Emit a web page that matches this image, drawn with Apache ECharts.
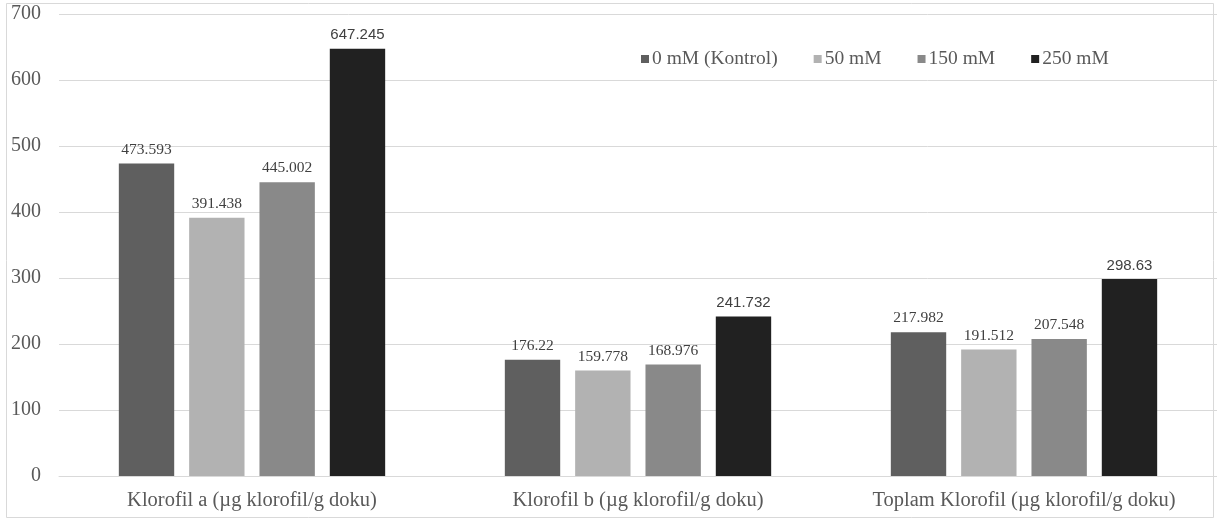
<!DOCTYPE html>
<html>
<head>
<meta charset="utf-8">
<script src="https://cdn.jsdelivr.net/npm/echarts@6/dist/echarts.min.js"></script>
<style>html,body{margin:0;padding:0;background:#fff;}#c{width:1217px;height:521px;}</style>
</head>
<body>
<div id="c"></div>
<script>
var categories = ['Klorofil a (µg klorofil/g doku)', 'Klorofil b (µg klorofil/g doku)', 'Toplam Klorofil (µg klorofil/g doku)'];
var seriesNames = ['0 mM (Kontrol)', '50 mM', '150 mM', '250 mM'];
var kontrol = [473.593, 176.22, 217.982];
var mM50 = [391.438, 159.778, 191.512];
var mM150 = [445.002, 168.976, 207.548];
var mM250 = [647.245, 241.732, 298.63];
var yTicks = [0, 100, 200, 300, 400, 500, 600, 700];

var colors = ['#5f5f5f', '#b2b2b2', '#898989', '#212121'];
var values = [kontrol, mM50, mM150, mM250];
var serif = '"Liberation Serif", "DejaVu Serif", serif';
var sans = '"Liberation Sans", Arial, sans-serif';

var series = values.map(function (v, i) {
  return {
    name: seriesNames[i],
    type: 'bar',
    data: v,
    barGap: '27%',
    barCategoryGap: '31%',
    itemStyle: { color: colors[i] },
    label: {
      show: true,
      position: 'top',
      distance: 6,
      color: '#404040',
      fontSize: i === 3 ? 15 : 15.5,
      fontFamily: i === 3 ? sans : serif,
      formatter: function (p) { return String(p.value); }
    }
  };
});

var chart = echarts.init(document.getElementById('c'));
chart.setOption({
  animation: false,
  backgroundColor: '#fff',
  graphic: [{
    type: 'rect',
    shape: { x: 6.5, y: 3.5, width: 1207, height: 514 },
    style: { fill: 'none', stroke: '#d9d9d9', lineWidth: 1 },
    z: -1
  }],
  grid: { left: 59, right: 0, top: 14, bottom: 45 },
  legend: {
    left: 641,
    top: 49,
    padding: 0,
    icon: 'rect',
    itemWidth: 8,
    itemHeight: 8,
    itemGap: 36,
    textStyle: { fontFamily: serif, fontSize: 19.5, color: '#595959', padding: [0, 0, 0, -2] },
    data: seriesNames
  },
  xAxis: {
    type: 'category',
    data: categories,
    axisLine: { show: true, lineStyle: { color: '#d9d9d9' } },
    axisTick: { show: false },
    axisLabel: { interval: 0, fontFamily: serif, fontSize: 20.5, color: '#595959', margin: 14 }
  },
  yAxis: {
    type: 'value',
    min: yTicks[0],
    max: yTicks[yTicks.length - 1],
    interval: 100,
    axisLine: { show: false },
    axisTick: { show: false },
    splitLine: { lineStyle: { color: '#d9d9d9' } },
    axisLabel: { fontFamily: serif, fontSize: 20, color: '#595959', margin: 18 }
  },
  series: series
});
</script>
</body>
</html>
